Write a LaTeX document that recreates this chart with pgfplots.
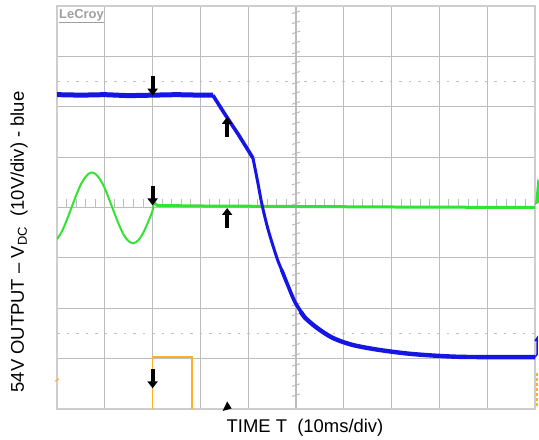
\documentclass[border=0pt]{standalone}
\usepackage{fontspec}
\setmainfont{Liberation Sans}
\usepackage{pgfplots}
\pgfplotsset{compat=1.18}
\usetikzlibrary{arrows.meta}

\definecolor{scopeblue}{RGB}{22,22,228}
\definecolor{scopegreen}{RGB}{52,226,52}
\definecolor{scopeorange}{RGB}{255,176,36}
\definecolor{gridgray}{RGB}{188,188,188}

\begin{document}
\begin{tikzpicture}[x=1bp,y=1bp]
\useasboundingbox (0,0) rectangle (539,440);
\begin{axis}[
    at={(57bp,31bp)}, anchor=south west,
    scale only axis, width=478bp, height=403bp,
    xmin=0, xmax=10, ymin=0, ymax=8,
    xtick={1,...,9}, ytick={1,...,7},
    xticklabels={}, yticklabels={},
    major tick length=0pt,
    grid=major,
    grid style={gridgray, line width=1.2bp},
    axis line style={draw=gridgray!75, line width=1.2bp},
    clip mode=individual,
]

% dotted reference levels
\draw[gray!50, line width=1bp, dash pattern=on 2.5bp off 7bp] (axis cs:0,6.5) -- (axis cs:10,6.5);
\draw[gray!50, line width=1bp, dash pattern=on 2.5bp off 7bp] (axis cs:0,1.5) -- (axis cs:10,1.5);

% small ticks on the centre lines
\pgfplotsinvokeforeach{1,...,39}{
  \draw[gridgray, line width=1bp] (axis cs:5,{#1*0.2}) ++(-4bp,0) -- ++(8bp,0);
}
\pgfplotsinvokeforeach{1,...,49}{
  \draw[gridgray, line width=1bp] (axis cs:{#1*0.2},4) ++(0,-3bp) -- ++(0,6bp);
}

% channel 3 (orange)
\addplot[scopeorange, line width=1.4bp] coordinates {
  (2.0,-0.05) (2.0,1.03) (2.82,1.03) (2.82,-0.05)
};

% channel 4 (green)
\addplot[scopegreen, line width=2bp, smooth] coordinates {
  (0,3.37) (0.1,3.52) (0.2,3.74) (0.3,3.99) (0.4,4.24) (0.5,4.46)
  (0.6,4.61) (0.7,4.69) (0.8,4.67) (0.9,4.56) (1.0,4.38) (1.1,4.14)
  (1.2,3.89) (1.3,3.65) (1.4,3.45) (1.5,3.33) (1.6,3.29) (1.7,3.35)
  (1.8,3.49) (1.9,3.70) (2.0,3.94) (2.02,4.10)
};
\addplot[scopegreen, line width=3bp] coordinates {
  (2.02,4.10) (2.1,4.04) (3,4.03) (5,4.02) (7,4.01) (10,4.00)
};

% channel 1 (blue) - 54V output
\addplot[scopeblue, line width=5bp] coordinates {
  (0,6.24) (0.5,6.23) (1,6.24) (1.5,6.22) (2,6.23) (2.5,6.24) (3,6.23)
  (3.26,6.23)
};
\addplot[scopeblue, line width=3.6bp] coordinates {
  (3.26,6.23) (3.5,5.87) (3.8,5.44) (4.10,4.98)
};
\addplot[scopeblue, line width=3bp, smooth] coordinates {
  (4.10,4.98) (4.20,4.50) (4.29,4.05) (4.42,3.55) (4.60,3.00) (4.70,2.76)
  (4.81,2.50)
};
\addplot[scopeblue, line width=3.6bp, smooth] coordinates {
  (4.70,2.76) (4.81,2.50) (4.98,2.12) (5.19,1.81)
};
\addplot[scopeblue, line width=4.4bp, smooth] coordinates {
  (5.10,1.93) (5.19,1.81) (5.44,1.61) (5.77,1.41)
  (6.19,1.27) (6.76,1.17) (7.45,1.09) (8.28,1.04) (9,1.03) (10,1.03)
};

% cursor arrows
\draw[black, line width=4bp, -{Triangle[length=7bp,width=10bp]}] (axis cs:2,6.62) -- (axis cs:2,6.22);
\draw[black, line width=4bp, -{Triangle[length=7bp,width=10bp]}] (axis cs:3.56,5.40) -- (axis cs:3.56,5.80);
\draw[black, line width=4bp, -{Triangle[length=7bp,width=10bp]}] (axis cs:2,4.42) -- (axis cs:2,4.04);
\draw[black, line width=4bp, -{Triangle[length=7bp,width=10bp]}] (axis cs:3.56,3.60) -- (axis cs:3.56,3.99);
\draw[black, line width=4bp, -{Triangle[length=7bp,width=10bp]}] (axis cs:2,0.80) -- (axis cs:2,0.41);
\fill[black] (axis cs:3.56,0) ++(-4.5bp,-2bp) -- ++(9bp,0) -- ++(-4.5bp,7bp) -- cycle;

% channel markers at the edges
\draw[scopeorange, line width=1bp] (axis cs:0,0.5) ++(-2bp,0) -- ++(4bp,0);
\fill[scopegreen] (axis cs:10,4.0) ++(0,0) -- ++(4bp,0) -- ++(0,19bp) -- ++(-1.5bp,0) -- cycle;
\draw[scopeblue, line width=1.5bp] (axis cs:10,1.03) -- ++(2bp,0) -- ++(0,14bp) -- ++(-2bp,-3bp);
\draw[scopeorange, line width=1.5bp, dash pattern=on 3bp off 2bp] (axis cs:10,0) ++(2bp,0) -- ++(0,32bp);
\end{axis}

\node[anchor=north west, text=gray!75, font=\bfseries\fontsize{13}{13}\selectfont, inner sep=0pt] at (59,431) {\underline{LeCroy}};
\node[font=\fontsize{18.5}{20}\selectfont] at (305,12) {TIME T\ \ (10ms/div)};
\node[rotate=90, font=\fontsize{18.5}{20}\selectfont] at (19,198) {54V OUTPUT – V\textsubscript{DC}\ \ (10V/div) - blue};
\end{tikzpicture}
\end{document}
